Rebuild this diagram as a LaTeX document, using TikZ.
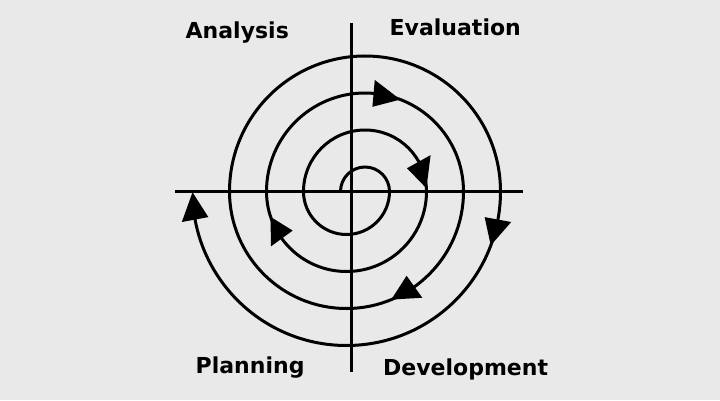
\documentclass[tikz,border=0pt]{standalone}
\usepackage{fontspec}
\setmainfont{DejaVu Sans}
\usetikzlibrary{calc}
\definecolor{bg}{RGB}{233,233,233}
\newcommand\spiraltri[4]{% center, radius, tip angle, base angle
  \fill ($(#1)+(#3:#2)$) -- ($(#1)+(#4:{#2+13.5})$) -- ($(#1)+(#4:{#2-13.5})$) -- cycle;}
\begin{document}
\begin{tikzpicture}[x=1pt,y=1pt,
  axis/.style={line width=3pt},
  spiral/.style={line width=3pt},
  lbl/.style={font=\bfseries\fontsize{22}{25}\selectfont, inner sep=0pt, anchor=base west}]
\fill[bg] (0,0) rectangle (720,400);
\useasboundingbox (0,0) rectangle (720,400);
\coordinate (U) at (365,208.5);
\coordinate (L) at (346.5,208.5);
% axes
\coordinate (hl) at (175,208.5);
\coordinate (hr) at (522.5,208.5);
\coordinate (vt) at (351.5,377);
\coordinate (vb) at (351.5,28);
\draw[axis] (hl) -- (hr);
\draw[axis] (vt) -- (vb);
% spiral
\coordinate (s0) at (340.5,208.5);
\draw[spiral] (s0)
  arc[start angle=180,end angle=0,radius=24.5]
  arc[start angle=0,end angle=-180,radius=43]
  arc[start angle=180,end angle=0,radius=61.5]
  arc[start angle=0,end angle=-180,radius=80]
  arc[start angle=180,end angle=0,radius=98.5]
  arc[start angle=0,end angle=-180,radius=117]
  arc[start angle=180,end angle=0,radius=135.5]
  arc[start angle=0,end angle=-177,radius=154];
% arrowheads
\spiraltri{U}{61.5}{3}{29}
\spiraltri{U}{98.5}{69}{85}
\spiraltri{L}{154}{-20.5}{-10.5}
\spiraltri{L}{117}{-67.5}{-54.5}
\spiraltri{L}{80}{198.5}{216}
\spiraltri{L}{154}{180.3}{190.5}
% labels
\node[lbl] (an) at (185.5,361.7) {Analysis};
\node[lbl] (ev) at (389.5,364) {Evaluation};
\node[lbl] (pl) at (195.5,26.7) {Planning};
\node[lbl] (de) at (383,25) {Development};
\end{tikzpicture}
\end{document}
